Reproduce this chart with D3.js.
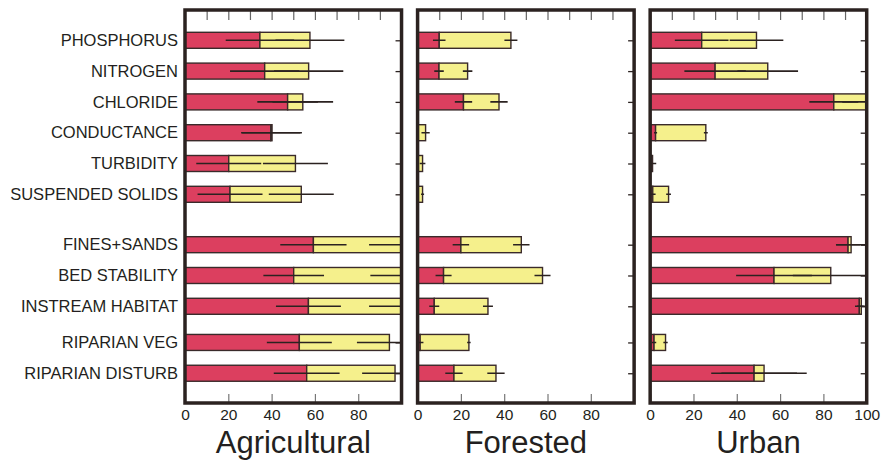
<!DOCTYPE html>
<html>
<head>
<meta charset="utf-8">
<script src="https://cdn.jsdelivr.net/npm/d3@7"></script>
<style>
  body { margin: 0; background: #fff; }
  text { font-family: Arial, "Liberation Sans", Helvetica, sans-serif; fill: #231f20; }
</style>
</head>
<body>
<script>
// row labels, top to bottom
var categories = ["PHOSPHORUS", "NITROGEN", "CHLORIDE", "CONDUCTANCE", "TURBIDITY", "SUSPENDED SOLIDS",
    "FINES+SANDS", "BED STABILITY", "INSTREAM HABITAT", "RIPARIAN VEG", "RIPARIAN DISTURB"];
var rowGroups = ["water", "water", "water", "water", "water", "water",
    "habitat", "habitat", "habitat", "riparian", "riparian"];

var panels = ["Agricultural", "Forested", "Urban"];

// inner (red) value and its error, total (yellow end) and its error
var agRed = [34.6, 36.8, 47.4, 39.6, 20.2, 20.8, 59.3, 50.2, 57, 52.8, 56.2];
var agRedErr = [15.8, 16, 14, 13.7, 15, 15, 15.3, 14, 15, 15, 15.2];
var agTot = [57.7, 57.1, 54.4, 40.2, 51, 53.7, 100, 100, 100, 94.4, 97];
var agTotErr = [15.9, 16, 14, 13.8, 15, 15, 15, 14.4, 15, 15, 15.2];

var foRed = [10, 9.9, 21.2, 0, 0, 0, 20, 12, 7.7, 1.2, 16.8];
var foRedErr = [2.9, 2.2, 4, 0, 0, 0, 3.8, 3.7, 2.3, 1.5, 4];
var foTot = [43.1, 23.1, 37.6, 3.7, 2.3, 2.3, 47.9, 57.7, 32.5, 23.7, 36.2];
var foTotErr = [3, 2.2, 4, 1.9, 1.3, 0.7, 3.8, 3.7, 2.3, 0.8, 4];

var urRed = [23.8, 30, 84.8, 2.5, 0.6, 1.2, 91.4, 57.2, 96.6, 1.8, 48];
var urRedErr = [12.4, 14.2, 11.3, 0.7, 0, 1.3, 5.5, 17.5, 2, 1, 19.8];
var urTot = [49.1, 54.3, 100, 25.7, 1.1, 8.5, 92.8, 83.4, 97.5, 7.1, 52.6];
var urTotErr = [12.4, 14, 11.3, 0.9, 1.7, 1.1, 7, 17.5, 2, 1, 19.7];

var xTickLabels = [[0, 20, 40, 60, 80], [0, 20, 40, 60, 80], [0, 20, 40, 60, 80, 100]];

var series = [
    { red: agRed, redErr: agRedErr, tot: agTot, totErr: agTotErr },
    { red: foRed, redErr: foRedErr, tot: foTot, totErr: foTotErr },
    { red: urRed, redErr: urRedErr, tot: urTot, totErr: urTotErr }
];

var width = 881, height = 461;
var frameTop = 10, frameBottom = 403;
var barH = 16;
var redColor = "#dc3f5f", yellowColor = "#f5f08c", ink = "#2b2220";

var svg = d3.select("body").append("svg")
    .attr("width", width)
    .attr("height", height);

var panelX = d3.scaleBand()
    .domain(panels)
    .range([185, 866.7])
    .paddingInner(0.069)
    .paddingOuter(0);

var bw = panelX.bandwidth();

var x = d3.scaleLinear()
    .domain([0, 100])
    .range([0, bw]);

// row slots: extra space before the habitat and riparian groups
var groupGap = { water: 0, habitat: 0.636, riparian: 0.81 };
var slotY = d3.scaleLinear()
    .domain([0, 1])
    .range([40.3, 71.1]);

var y = d3.scaleOrdinal()
    .domain(categories)
    .range(categories.map(function (c, i) { return slotY(i + groupGap[rowGroups[i]]); }));

panels.forEach(function (name, k) {
    var s = series[k];
    var g = svg.append("g")
        .attr("transform", "translate(" + panelX(name) + ",0)");

    g.append("clipPath")
        .attr("id", "clip" + k)
        .append("rect")
        .attr("x", 0)
        .attr("y", frameTop)
        .attr("width", bw)
        .attr("height", frameBottom - frameTop);

    // top inner ticks
    g.append("g")
        .attr("transform", "translate(0," + frameTop + ")")
        .call(d3.axisTop(x).tickValues(d3.range(10, 100, 10)).tickSizeInner(-10).tickSizeOuter(0).tickFormat(""))
        .call(function (a) { a.select(".domain").remove(); })
        .selectAll("line").attr("stroke", "#666").attr("stroke-width", 1.2);

    // bottom ticks + labels
    var bx = g.append("g")
        .attr("transform", "translate(0," + frameBottom + ")")
        .call(d3.axisBottom(x).tickValues(xTickLabels[k]).tickSizeInner(-9).tickSizeOuter(0).tickPadding(6));
    bx.select(".domain").remove();
    bx.selectAll("line").attr("stroke", "#777").attr("stroke-width", 1.2);
    bx.selectAll("text").attr("font-size", "15.5px").attr("fill", "#231f20")
        .style("font-family", "Arial, 'Liberation Sans', sans-serif");

    // right inner ticks
    g.append("g")
        .attr("transform", "translate(" + bw + ",0)")
        .call(d3.axisRight(y).tickSizeInner(-6).tickSizeOuter(0).tickFormat(""))
        .call(function (a) { a.select(".domain").remove(); })
        .selectAll("line").attr("stroke", ink).attr("stroke-width", 1.3);

    var plot = g.append("g").attr("clip-path", "url(#clip" + k + ")");

    plot.selectAll(".red")
        .data(categories)
        .enter()
        .append("rect")
        .attr("class", "red")
        .attr("x", x(0))
        .attr("y", function (d) { return y(d) - barH / 2; })
        .attr("width", function (d, i) { return x(s.red[i]); })
        .attr("height", barH)
        .attr("fill", redColor)
        .attr("stroke", "#3a2a2a")
        .attr("stroke-width", 1.4);

    plot.selectAll(".yellow")
        .data(categories)
        .enter()
        .append("rect")
        .attr("class", "yellow")
        .attr("x", function (d, i) { return x(s.red[i]); })
        .attr("y", function (d) { return y(d) - barH / 2; })
        .attr("width", function (d, i) { return x(s.tot[i]) - x(s.red[i]); })
        .attr("height", barH)
        .attr("fill", yellowColor)
        .attr("stroke", "#3a2a2a")
        .attr("stroke-width", 1.4);

    plot.selectAll(".errRed")
        .data(categories)
        .enter()
        .append("line")
        .attr("x1", function (d, i) { return x(s.red[i] - s.redErr[i]); })
        .attr("x2", function (d, i) { return x(s.red[i] + s.redErr[i]); })
        .attr("y1", function (d) { return y(d); })
        .attr("y2", function (d) { return y(d); })
        .attr("stroke", ink)
        .attr("stroke-width", 1.6);

    plot.selectAll(".errTot")
        .data(categories)
        .enter()
        .append("line")
        .attr("x1", function (d, i) { return x(s.tot[i] - s.totErr[i]); })
        .attr("x2", function (d, i) { return x(s.tot[i] + s.totErr[i]); })
        .attr("y1", function (d) { return y(d); })
        .attr("y2", function (d) { return y(d); })
        .attr("stroke", ink)
        .attr("stroke-width", 1.6);

    // frame
    g.append("rect")
        .attr("x", 0)
        .attr("y", frameTop)
        .attr("width", bw)
        .attr("height", frameBottom - frameTop)
        .attr("fill", "none")
        .attr("stroke", ink)
        .attr("stroke-width", 3.5);

    g.append("text")
        .attr("x", bw / 2)
        .attr("y", 452.7)
        .attr("text-anchor", "middle")
        .attr("font-size", "31px")
        .text(name);

    if (k === 0) {
        var ly = g.append("g")
            .call(d3.axisLeft(y).tickSize(0).tickPadding(7));
        ly.select(".domain").remove();
        ly.selectAll("text")
            .attr("font-size", "16.5px")
            .attr("fill", "#231f20")
            .style("font-family", "Arial, 'Liberation Sans', sans-serif");
    }
});
</script>
</body>
</html>
